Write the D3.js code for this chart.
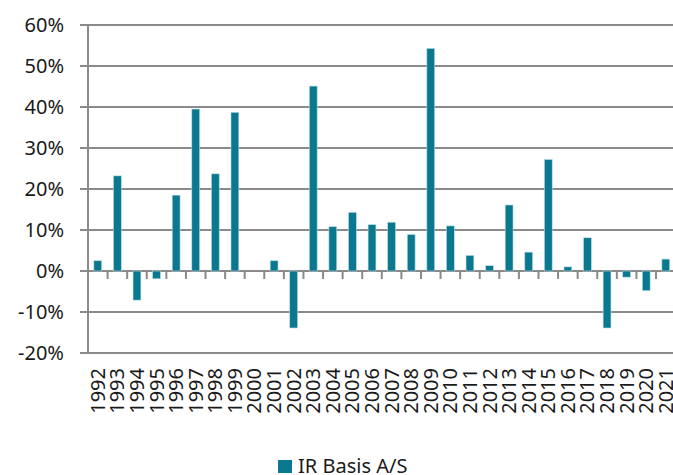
<html>
<head>
  <meta charset="UTF-8">
  <script src="https://d3js.org/d3.v7.min.js"></script>
  <style>
    body { margin: 0; background: #fff; }
    text { font-family: "Noto Sans", sans-serif; fill: #1a1a1a; }
  </style>
</head>
<body>
  <svg id="chart" width="673" height="475"></svg>
  <script>
    // Data
    const years = [ "1992", "1993", "1994", "1995", "1996", "1997", "1998", "1999", "2000", "2001",
      "2002", "2003", "2004", "2005", "2006", "2007", "2008", "2009", "2010", "2011",
      "2012", "2013", "2014", "2015", "2016", "2017", "2018", "2019", "2020", "2021" ];
    const irBasis = [ 2.5, 23.2, -7.1, -1.9, 18.5, 39.5, 23.7, 38.7, 0, 2.5,
      -13.9, 45.1, 10.8, 14.3, 11.3, 11.9, 8.9, 54.3, 11.0, 3.8,
      1.3, 16.1, 4.6, 27.2, 1.0, 8.1, -13.9, -1.5, -4.8, 2.9 ];
    const yTicks = [ -20, -10, 0, 10, 20, 30, 40, 50, 60 ];
    const seriesName = "IR Basis A/S";

    const plotLeft = 88, plotRight = 675.6, plotTop = 25, plotBottom = 353;
    const barColor = "#0a788f";
    const gridColor = "#8a8a8a";

    const svg = d3.select( "#chart" );

    const x = d3.scaleBand()
      .domain( years )
      .range( [ plotLeft, plotRight ] );

    const y = d3.scaleLinear()
      .domain( [ -20, 60 ] )
      .range( [ plotBottom, plotTop ] );

    // Gridlines + y labels
    svg.append( "g" )
      .selectAll( "line" )
      .data( yTicks ).enter()
      .append( "line" )
      .attr( "x1", plotLeft - 8 )
      .attr( "x2", 673 )
      .attr( "y1", d => y( d ) )
      .attr( "y2", d => y( d ) )
      .attr( "stroke", gridColor )
      .attr( "stroke-width", 2 );

    svg.append( "g" )
      .selectAll( "text" )
      .data( yTicks ).enter()
      .append( "text" )
      .attr( "x", 64 )
      .attr( "y", d => y( d ) + 7 )
      .attr( "text-anchor", "end" )
      .style( "font-size", "20px" )
      .text( d => d + "%" );

    // y axis line
    svg.append( "line" )
      .attr( "x1", plotLeft ).attr( "x2", plotLeft )
      .attr( "y1", plotTop ).attr( "y2", plotBottom )
      .attr( "stroke", gridColor )
      .attr( "stroke-width", 2 );

    // category ticks on zero line
    svg.append( "g" )
      .selectAll( "line" )
      .data( years.slice( 1 ) ).enter()
      .append( "line" )
      .attr( "x1", d => x( d ) )
      .attr( "x2", d => x( d ) )
      .attr( "y1", y( 0 ) )
      .attr( "y2", y( 0 ) + 8 )
      .attr( "stroke", gridColor )
      .attr( "stroke-width", 2 );

    // Bars
    const bw = x.bandwidth() * 0.4;
    svg.append( "g" )
      .selectAll( "rect" )
      .data( irBasis ).enter()
      .append( "rect" )
      .attr( "x", ( d, i ) => x( years[ i ] ) + ( x.bandwidth() - bw ) / 2 )
      .attr( "y", d => y( Math.max( 0, d ) ) )
      .attr( "width", bw )
      .attr( "height", d => Math.abs( y( d ) - y( 0 ) ) )
      .attr( "fill", barColor )
      .attr( "stroke", "#b9dbe3" )
      .attr( "stroke-width", 0.6 );

    // x labels (rotated)
    svg.append( "g" )
      .selectAll( "text" )
      .data( years ).enter()
      .append( "text" )
      .attr( "transform", d => "translate(" + ( x( d ) + x.bandwidth() / 2 + 7 ) + "," + ( plotBottom + 15 ) + ") rotate(-90)" )
      .attr( "text-anchor", "end" )
      .style( "font-size", "20px" )
      .text( d => d );

    // Legend
    const legend = svg.append( "g" ).attr( "transform", "translate(278,460)" );
    legend.append( "rect" )
      .attr( "width", 14 ).attr( "height", 13 )
      .attr( "fill", barColor );
    legend.append( "text" )
      .attr( "x", 20 ).attr( "y", 13 )
      .style( "font-size", "20px" )
      .text( seriesName );
  </script>
</body>
</html>
